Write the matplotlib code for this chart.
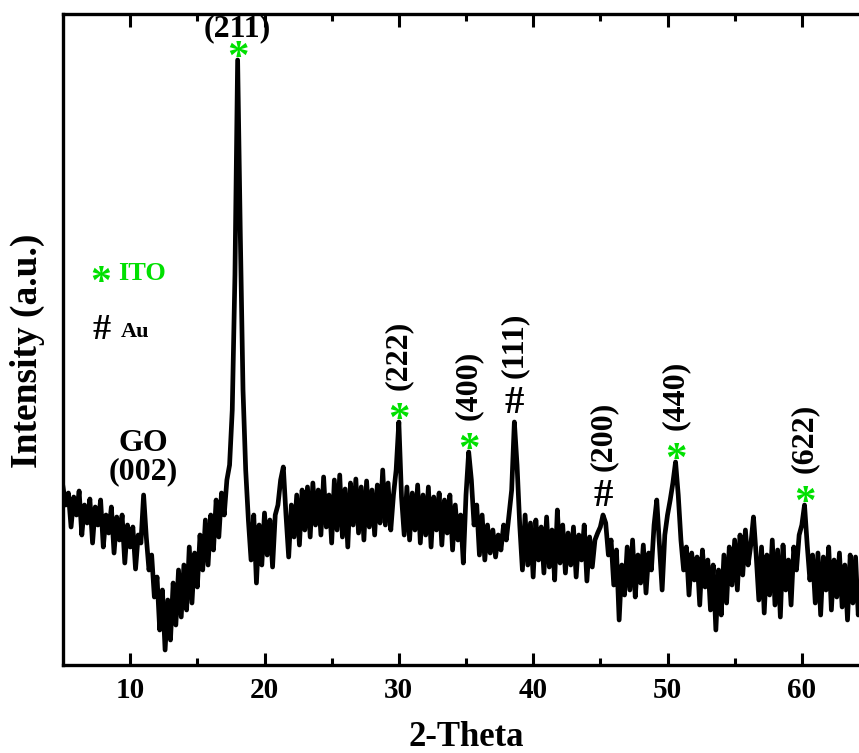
import numpy as np
import matplotlib
matplotlib.use("Agg")
import matplotlib.pyplot as plt

# XRD pattern (2-theta step 0.2 deg, intensity a.u.)
two_theta = np.round(np.arange(5.0, 64.41, 0.2), 1)
intensity = [
    178, 160, 172, 138, 168, 150, 174, 130, 160, 142,   # 5.0 - 6.8
    166, 122, 158, 140, 165, 118, 150, 132, 158, 112,   # 7.0 - 8.8
    148, 125, 150, 102, 140, 118, 138, 96, 130, 122,    # 9.0 - 10.8
    170, 128, 95, 110, 68, 88, 35, 75, 15, 65,          # 11.0 - 12.8
    25, 82, 40, 95, 48, 100, 55, 118, 62, 112,          # 13.0 - 14.8
    78, 130, 95, 145, 100, 150, 115, 165, 128, 172,     # 15.0 - 16.8
    150, 185, 200, 255, 390, 605, 430, 275, 195, 145,   # 17.0 - 18.8
    105, 150, 82, 140, 100, 152, 110, 145, 98, 150,     # 19.0 - 20.8
    160, 185, 198, 150, 108, 160, 128, 170, 120, 175,   # 21.0 - 22.8
    135, 178, 128, 182, 140, 175, 130, 188, 138, 170,   # 23.0 - 24.8
    122, 185, 135, 190, 128, 176, 118, 182, 140, 186,   # 25.0 - 26.8
    132, 178, 125, 184, 138, 175, 130, 180, 142, 195,   # 27.0 - 28.8
    140, 182, 135, 170, 195, 243, 168, 130, 178, 125,   # 29.0 - 30.8
    172, 135, 180, 122, 170, 130, 178, 118, 168, 135,   # 31.0 - 32.8
    172, 120, 165, 132, 170, 115, 160, 125, 150, 102,   # 33.0 - 34.8
    170, 213, 185, 140, 160, 110, 150, 105, 140, 112,   # 35.0 - 36.8
    135, 108, 130, 115, 140, 125, 150, 175, 243, 200,   # 37.0 - 38.8
    140, 95, 150, 100, 142, 88, 145, 105, 138, 92,      # 39.0 - 40.8
    148, 98, 135, 85, 155, 102, 140, 92, 132, 100,      # 41.0 - 42.8
    138, 88, 130, 105, 140, 84, 128, 98, 125, 132,      # 43.0 - 44.8
    138, 150, 142, 110, 125, 80, 115, 45, 100, 70,      # 45.0 - 46.8
    118, 75, 125, 68, 110, 82, 120, 72, 112, 95,        # 47.0 - 48.8
    140, 165, 120, 75, 130, 150, 165, 182, 203, 170,    # 49.0 - 50.8
    125, 95, 118, 70, 112, 85, 108, 60, 115, 78,        # 51.0 - 52.8
    105, 55, 100, 35, 95, 50, 110, 62, 118, 80,         # 53.0 - 54.8
    125, 75, 130, 90, 135, 100, 120, 148, 110, 65,      # 55.0 - 56.8
    118, 52, 110, 70, 125, 60, 115, 48, 120, 75,        # 57.0 - 58.8
    105, 60, 118, 95, 130, 140, 160, 120, 85, 110,      # 59.0 - 60.8
    62, 112, 50, 108, 75, 118, 55, 105, 68, 112,        # 61.0 - 62.8
    58, 100, 45, 110, 62, 108, 50, 95,                  # 63.0 - 64.4
]

# labelled reflections: position, label, symbol
peak_theta = [18.0, 30.0, 35.2, 38.6, 45.2, 50.6, 60.2]
peak_label = ["(211)", "(222)", "(400)", "(111)", "(200)", "(440)", "(622)"]
peak_symbol = ["*", "*", "*", "#", "#", "*", "*"]

go_theta = 11.0

ito_green = "#00e000"
font = "Liberation Serif"

plt.rcParams["font.family"] = font
plt.rcParams["font.weight"] = "bold"

fig = plt.figure(figsize=(8.59, 7.53), dpi=100)
ax = fig.add_axes([63 / 859, 88 / 753, 806 / 859, 651 / 753])

ax.plot(two_theta, intensity, color="black", lw=3.4, solid_joinstyle="round")

ax.set_xlim(5, 65)
ax.set_ylim(0, 651)
ax.set_xticks([10, 20, 30, 40, 50, 60])
ax.set_xticks([15, 25, 35, 45, 55], minor=True)
ax.set_yticks([])
ax.tick_params(axis="x", which="major", direction="in", length=9, width=2.2,
               top=True, labelsize=21, pad=9)
ax.tick_params(axis="x", which="minor", direction="in", length=5, width=2.2, top=True)
for s in ax.spines.values():
    s.set_linewidth(2.4)

ax.set_xlabel("2-Theta", fontsize=25, fontweight="bold", labelpad=12)
ax.set_ylabel("Intensity (a.u.)", fontsize=27, fontweight="bold")
ax.yaxis.set_label_coords(-0.022, 0.482)

# peak markers and hkl labels
for t, lab, sym in zip(peak_theta, peak_label, peak_symbol):
    top = np.interp(t, two_theta, intensity)
    if sym == "*":
        ax.annotate("*", (t, top), xytext=(0, -13), textcoords="offset points",
                    ha="center", va="bottom", fontsize=31, color=ito_green)
        off = 23
    else:
        ax.annotate("#", (t, top), xytext=(0, 0), textcoords="offset points",
                    ha="center", va="bottom", fontsize=28, color="black")
        off = 32
    if lab == "(211)":
        ax.annotate(lab, (t, top), xytext=(0, 12), textcoords="offset points",
                    ha="center", va="bottom", fontsize=23)
    else:
        ax.annotate(lab, (t, top), xytext=(0, off), textcoords="offset points",
                    ha="center", va="bottom", fontsize=23, rotation=90)

go_top = np.interp(go_theta, two_theta, intensity)
ax.annotate("GO\n(002)", (go_theta, go_top), xytext=(0, 6), textcoords="offset points",
            ha="center", va="bottom", fontsize=23, linespacing=1.0)

# symbol key
ax.text(0.047, 0.585, "*", transform=ax.transAxes, color=ito_green, fontsize=30,
        ha="center", va="center")
ax.text(0.068, 0.601, "ITO", transform=ax.transAxes, color=ito_green, fontsize=19,
        ha="left", va="center")
ax.text(0.048, 0.514, "#", transform=ax.transAxes, color="black", fontsize=26,
        ha="center", va="center")
ax.text(0.072, 0.512, "Au", transform=ax.transAxes, color="black", fontsize=16,
        ha="left", va="center")

fig.savefig("out.png", dpi=100)
